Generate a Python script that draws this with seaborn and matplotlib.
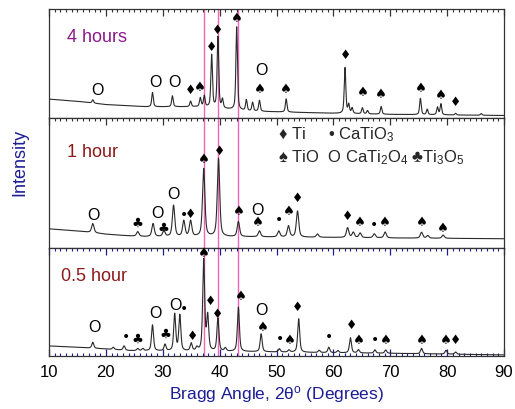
import numpy as np
import pandas as pd
import matplotlib
matplotlib.use("Agg")
import matplotlib.pyplot as plt
import seaborn as sns
from matplotlib.ticker import MultipleLocator

sns.set_theme(style="white")
plt.rcParams["font.family"] = ["Liberation Sans", "DejaVu Sans"]
plt.rcParams["mathtext.fontset"] = "custom"
plt.rcParams["mathtext.rm"] = "Liberation Sans"
plt.rcParams["mathtext.it"] = "Liberation Sans:italic"

# ---------------- diffraction data (2θ in degrees, intensity in a.u.) ----------------
# background level at a few angles
bg_theta = [10, 15, 20, 24, 27, 37, 45, 60, 70, 90]
bg_4h = [17.0, 15.0, 12.0, 11.0, 10.0, 10.0, 6.0, 4.0, 3.0, 2.0]
bg_1h = [14.6, 13.0, 10.5, 9.2, 8.6, 8.5, 8.5, 8.0, 7.6, 7.0]
bg_05h = [9.3, 8.0, 6.5, 5.0, 4.7, 4.3, 4.0, 3.0, 2.5, 1.0]

# reflections: position, height above background
pk_pos_4h = [17.7, 28.2, 31.7, 34.9, 36.6, 37.3, 38.6, 39.7, 40.5, 43.0, 44.7, 45.8,
             47.0, 51.7, 62.05, 62.7, 63.3, 65.1, 66.0, 68.4, 75.3, 76.5, 78.3, 78.9,
             81.5, 86.0]
pk_amp_4h = [3, 13, 10, 5, 8, 10, 48, 65, 8, 76, 10, 8,
             10, 12, 42, 8, 5, 5.5, 3, 7, 15, 5, 7, 10,
             1.5, 1.5]

pk_pos_1h = [17.7, 25.6, 28.3, 30.2, 31.9, 33.7, 34.9, 37.2, 39.8, 43.3, 47.0, 50.4,
             52.1, 53.7, 57.2, 62.5, 63.5, 64.7, 67.2, 69.1, 75.5, 76.6, 79.3]
pk_amp_1h = [7, 3.5, 10, 4.5, 24, 12, 12, 52, 60, 11.5, 4.5, 4.5,
             8.5, 20, 2.5, 7.5, 4, 3.5, 3, 4.5, 4.5, 2, 2.5]

pk_pos_05h = [17.7, 21.3, 23.2, 25.6, 26.5, 28.2, 30.4, 32.1, 33.0, 35.0, 36.0, 37.2,
              37.9, 39.7, 41.0, 43.3, 47.3, 50.5, 52.2, 53.9, 57.5, 59.2, 60.8, 63.0,
              64.4, 67.3, 69.2, 75.5, 79.8, 81.5]
pk_amp_05h = [5.5, 2, 4, 2, 2, 24, 6, 34, 33, 7, 3, 84,
              32, 30, 3, 41, 16.5, 3, 2, 31, 2, 5, 2, 14,
              3, 3, 3, 5, 3.5, 2]

# phase labels placed over the reflections
mk_x_4h = [18.6, 28.7, 32.0, 34.9, 36.5, 38.65, 39.7, 43.0, 47.3, 47.0, 51.7, 62.05,
           65.1, 68.4, 75.3, 78.9, 81.5]
mk_y_4h = [26, 33, 33, 25.7, 29, 65.4, 81, 92, 44, 26.6, 26.6, 57.8,
           23.6, 22, 27.2, 21.4, 14.4]
mk_p_4h = ["CaTi2O4", "CaTi2O4", "CaTi2O4", "Ti", "TiO", "Ti", "Ti", "TiO", "CaTi2O4",
           "TiO", "TiO", "Ti", "TiO", "TiO", "TiO", "TiO", "Ti"]

mk_x_1h = [17.8, 25.6, 29.0, 30.2, 31.9, 33.7, 34.9, 37.25, 39.9, 43.3, 46.7, 46.7,
           50.4, 52.1, 53.7, 62.5, 64.7, 67.2, 69.1, 75.5, 79.3]
mk_y_1h = [25.4, 20, 27, 16, 41.5, 26, 26, 68.5, 74.6, 28.5, 29.2, 20,
           22.3, 28.5, 38.5, 24.6, 20, 18.5, 20, 20, 16]
mk_p_1h = ["CaTi2O4", "Ti3O5", "CaTi2O4", "Ti3O5", "CaTi2O4", "CaTiO3", "Ti", "TiO",
           "Ti", "TiO", "CaTi2O4", "TiO", "CaTiO3", "TiO", "Ti", "Ti", "TiO", "CaTiO3",
           "TiO", "TiO", "TiO"]

mk_x_05h = [17.95, 23.6, 25.6, 28.7, 30.4, 32.3, 33.7, 35.3, 37.2, 38.4, 39.6, 43.8,
            47.3, 47.6, 50.6, 52.3, 53.7, 59.3, 63.2, 64.4, 67.4, 69.2, 75.5, 79.8, 81.5]
mk_y_05h = [27.5, 18.5, 16.7, 39.8, 21.3, 48, 44.4, 19.4, 95.5, 51, 39, 55.6,
            42.6, 26.9, 16.7, 15.7, 45.4, 18.5, 28.7, 14.8, 15.7, 14.8, 14.8, 14.8, 14.8]
mk_p_05h = ["CaTi2O4", "CaTiO3", "Ti3O5", "CaTi2O4", "Ti3O5", "CaTi2O4", "CaTiO3", "Ti",
            "TiO", "Ti", "Ti", "TiO", "CaTi2O4", "TiO", "CaTiO3", "TiO", "Ti", "CaTiO3",
            "Ti", "TiO", "CaTiO3", "TiO", "TiO", "TiO", "Ti"]

panel_names = ["4 hours", "1 hour", "0.5 hour"]
reference_lines = [37.3, 39.8, 43.2]
key_rows = ["\u2666 Ti     \u2022 CaTiO$_3$",
            "\u2660 TiO  O CaTi$_2$O$_4$ \u2663Ti$_3$O$_5$"]

# ---------------- styling ----------------
GLYPH = {"Ti": ("\u2666", 9), "TiO": ("\u2660", 9.5), "CaTiO3": ("\u2022", 10),
         "CaTi2O4": ("O", 11.5), "Ti3O5": ("\u2663", 9.5)}
NAVY = "#1c1c96"
LABEL_COLORS = ["#8a1a8a", "#8c1a1a", "#8c1a1a"]
FWHM = [0.33, 0.5, 0.42]


def profile(theta, centres, heights, fwhm, eta=0.55):
    th = theta[:, None]
    c = np.asarray(centres)[None, :]
    h = np.asarray(heights)[None, :]
    g = np.exp(-4 * np.log(2) * (th - c) ** 2 / fwhm ** 2)
    l = 1.0 / (1.0 + 4 * (th - c) ** 2 / fwhm ** 2)
    return (h * (eta * l + (1 - eta) * g)).sum(axis=1)


theta = np.arange(10.0, 90.0001, 0.02)
frames = []
for name, bg, pp, pa, w in zip(panel_names, [bg_4h, bg_1h, bg_05h],
                               [pk_pos_4h, pk_pos_1h, pk_pos_05h],
                               [pk_amp_4h, pk_amp_1h, pk_amp_05h], FWHM):
    inten = np.interp(theta, bg_theta, bg) + profile(theta, pp, pa, w)
    frames.append(pd.DataFrame({"two_theta": theta, "intensity": inten, "sample": name}))
df = pd.concat(frames, ignore_index=True)

markers = [(mk_x_4h, mk_y_4h, mk_p_4h), (mk_x_1h, mk_y_1h, mk_p_1h),
           (mk_x_05h, mk_y_05h, mk_p_05h)]

fig = plt.figure(figsize=(5.15, 4.10), dpi=100)
gs = fig.add_gridspec(3, 1, height_ratios=[109, 130, 108], hspace=0,
                      left=49 / 515, right=504 / 515, top=1 - 9.5 / 410, bottom=1 - 357 / 410)
axes = [fig.add_subplot(gs[i]) for i in range(3)]

for i, (ax, name) in enumerate(zip(axes, panel_names)):
    sns.lineplot(data=df[df["sample"] == name], x="two_theta", y="intensity", ax=ax,
                 color="#2a2a2a", lw=0.8, estimator=None)
    for xv in reference_lines:
        ax.axvline(xv, color="#f065b8", lw=1.0, zorder=0)
    ax.set_xlim(10, 90)
    ax.set_ylim(0, 100)
    ax.set_yticks([])
    ax.set_xlabel("")
    ax.set_ylabel("")
    for sp in ax.spines.values():
        sp.set_color("#333333")
        sp.set_linewidth(0.9)
    ax.xaxis.set_major_locator(MultipleLocator(10))
    ax.xaxis.set_minor_locator(MultipleLocator(1))
    tick_col = NAVY if i == 2 else "#333333"
    ax.tick_params(axis="x", which="both", direction="in", top=True,
                   bottom=(i == 2), labelbottom=(i == 2), colors=tick_col,
                   labelcolor="black", labelsize=12, pad=6)
    ax.tick_params(axis="x", which="major", length=5, width=0.9)
    ax.tick_params(axis="x", which="minor", length=2.5, width=0.8)
    ax.text(13.2 if i < 2 else 12.1, 74, name, color=LABEL_COLORS[i], fontsize=13,
            ha="left", va="center")
    mx, my, mp = markers[i]
    for x, y, p in zip(mx, my, mp):
        g, fs = GLYPH[p]
        ax.text(x, y, g, fontsize=fs, ha="center", va="center", color="black",
                family=["DejaVu Sans"] if g != "O" else ["Liberation Sans"])

# phase key in the middle panel
axes[1].text(50.3, 87.7, key_rows[0], fontsize=12, ha="left", va="center")
axes[1].text(50.3, 70.0, key_rows[1], fontsize=12, ha="left", va="center")

fig.text(20 / 515, 1 - 162 / 410, "Intensity", rotation=90, color=NAVY, fontsize=13,
         ha="center", va="center")
axes[2].set_xlabel("Bragg Angle, 2\u03b8$^{\\mathrm{o}}$ (Degrees)", color=NAVY,
                   fontsize=12.5, labelpad=3)

fig.savefig("out.png", dpi=100)
